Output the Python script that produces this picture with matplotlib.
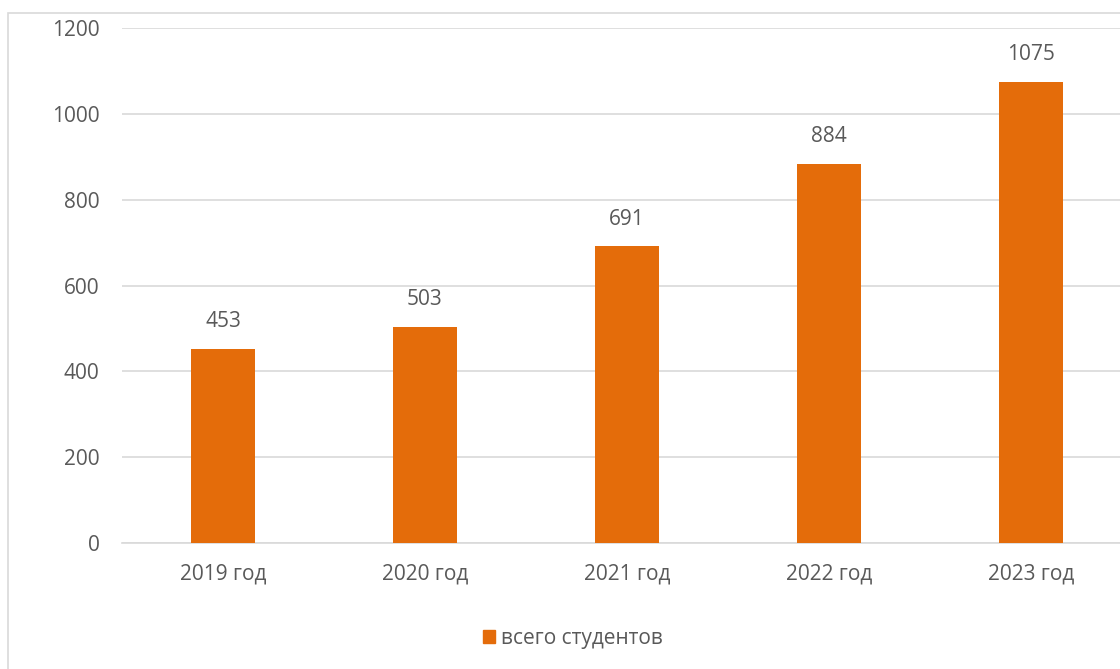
import matplotlib.pyplot as plt
from matplotlib.patches import Rectangle, Patch

years = ['2019 год', '2020 год', '2021 год', '2022 год', '2023 год']
students = [453, 503, 691, 884, 1075]
series_name = 'всего студентов'

bar_color = '#E46C0A'
text_color = '#595959'
grid_color = '#D9D9D9'

plt.rcParams['font.family'] = ['Open Sans', 'DejaVu Sans']

fig = plt.figure(figsize=(11.2, 6.69), dpi=100)
fig.patches.append(Rectangle((0.0071, -0.1), 1.2, 0.9806 + 0.1, transform=fig.transFigure,
                             fill=False, edgecolor=grid_color, linewidth=1.2))

ax = fig.add_axes([0.1089, 0.1883, 0.9018, 0.7698])
x = range(len(years))
bars = ax.bar(x, students, width=0.32, color=bar_color, zorder=3)
for b, v in zip(bars, students):
    ax.annotate(str(v), (b.get_x() + b.get_width() / 2, v), xytext=(0, 12),
                textcoords='offset points', ha='center', va='bottom',
                fontsize=15, color=text_color)

ax.set_xlim(-0.5, len(years) - 0.5)
ax.set_ylim(0, 1200)
ax.set_yticks(range(0, 1201, 200))
ax.set_xticks(list(x))
ax.set_xticklabels(years)
ax.yaxis.grid(True, color=grid_color, linewidth=1.2, zorder=0)
for s in ['top', 'right', 'left']:
    ax.spines[s].set_visible(False)
ax.spines['bottom'].set_color(grid_color)
ax.spines['bottom'].set_linewidth(1.2)
ax.tick_params(axis='both', length=0, labelsize=15, colors=text_color)
ax.tick_params(axis='y', pad=16)
ax.tick_params(axis='x', pad=15)

fig.legend(handles=[Patch(color=bar_color, label=series_name)], loc='center',
           bbox_to_anchor=(573 / 1120, 0.046), frameon=False, fontsize=15,
           labelcolor=text_color, handlelength=0.6, handleheight=0.6, handletextpad=0.3)

fig.savefig('out.png', dpi=100)
